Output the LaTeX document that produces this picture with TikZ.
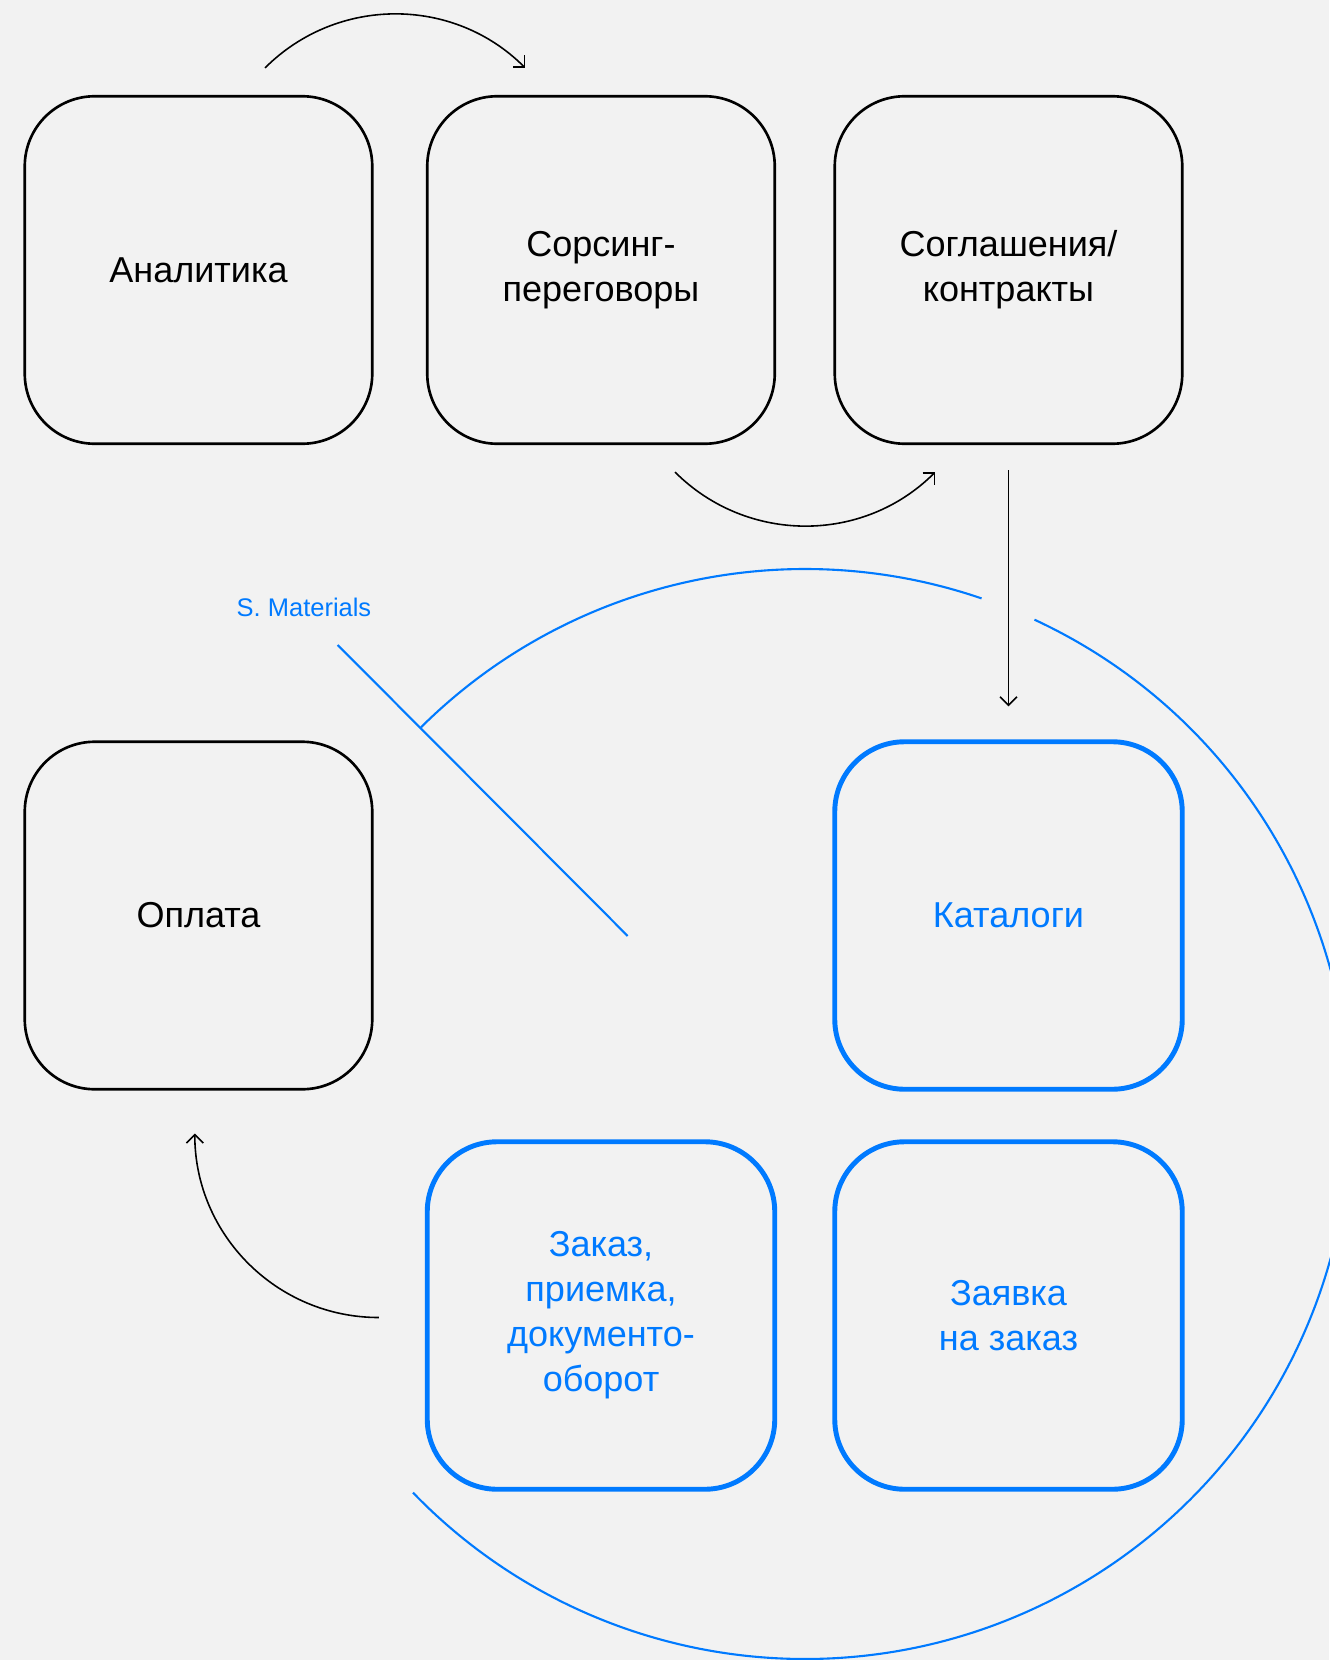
\documentclass[tikz,border=0pt]{standalone}
\usepackage{fontspec}
\setmainfont{Liberation Sans}
\usetikzlibrary{arrows.meta, positioning}
\definecolor{accent}{RGB}{0,122,255}
\definecolor{paper}{HTML}{F2F2F2}

\begin{document}
\begin{tikzpicture}[
  stage/.style={draw, line width=1.5pt, rounded corners=1.4cm, minimum width=6.95cm, minimum height=6.95cm, align=center, font=\fontsize{20.5}{25.6}\selectfont},
  digital/.style={stage, draw=accent, text=accent, line width=2.8pt},
  flow/.style={-{Straight Barb[length=4.8pt, width=9.6pt]}, line width=0.9pt},
  ring/.style={draw=accent, line width=1.2pt},
  tag/.style={text=accent, font=\fontsize{14.5}{17}\selectfont, inner sep=0pt}
]
\fill[paper] (0,0) rectangle (26.58,-33.2);
\useasboundingbox (0,0) rectangle (26.58,-33.2);
% upper row and payment
\node[stage] (anal) at (3.97,-5.4) {Аналитика};
\node[stage] (sors) at (12.02,-5.4) {Сорсинг-\\переговоры};
\node[stage] (sogl) at (20.17,-5.4) {Соглашения/\\контракты};
\node[stage] (opl) at (3.97,-18.31) {Оплата};
% digital part
\node[digital] (kat) at (20.17,-18.31) {Каталоги};
\node[digital] (zak) at (12.02,-26.31) {Заказ,\\приемка,\\документо-\\оборот};
\node[digital] (zay) at (20.17,-26.31) {Заявка\\на заказ};
\node[tag, anchor=base] (mat) at (6.08,-12.32) {S. Materials};
\coordinate (cen) at (16.1,-22.28);
\coordinate (mend) at (12.554,-18.72);
% connectors
\draw[flow] ([shift={(1.33,0.54)}]anal.north) arc[start angle=135, end angle=45, radius=3.68];
\draw[flow] ([shift={(1.48,-0.54)}]sors.south) arc[start angle=-135, end angle=-45, radius=3.68];
\draw[flow] ([yshift=-0.5cm]sogl.south) -- ([yshift=0.66cm]kat.north);
\draw[flow] ([shift={(-0.92,-0.04)}]zak.west) arc[start angle=270, end angle=180, radius=3.68];
% circle
\draw[ring] (cen) ++(134.8:10.9) arc[start angle=134.8, end angle=71.1, radius=10.9];
\draw[ring] (cen) ++(65.1:10.9) arc[start angle=65.1, end angle=-136, radius=10.9];
\draw[ring] ([shift={(0.674,-0.58)}]mat.base) -- (mend);
\end{tikzpicture}
\end{document}
